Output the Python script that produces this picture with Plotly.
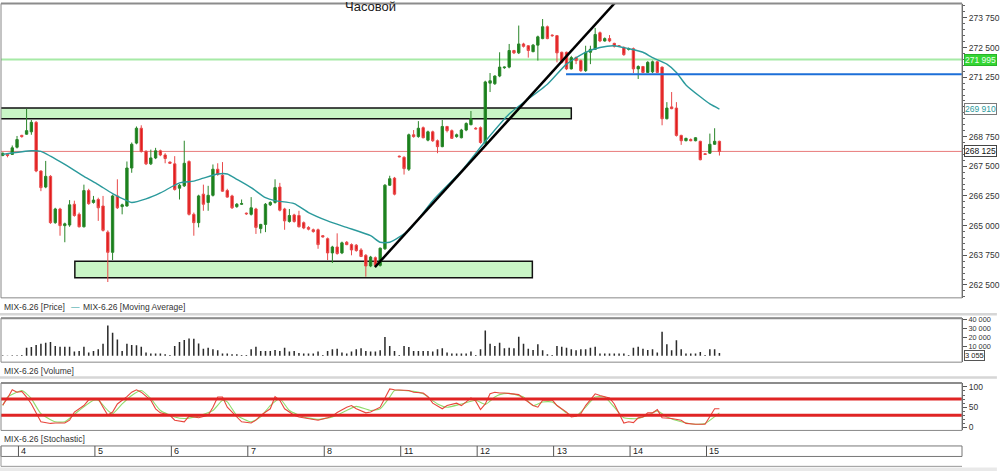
import plotly.graph_objects as go

# ---------------- data ----------------
candle_open = [267950, 268000, 268000, 268300, 268800, 268850, 268950, 269350, 267300, 266625,
               267075, 265125, 265700, 265000, 265025, 265900, 265475, 264950, 266475, 265975,
               266100, 265825, 264725, 263875, 266250, 265800, 265825, 267425, 268475, 269100,
               268125, 267600, 267850, 268150, 267975, 267675, 267600, 266575, 266675, 267700,
               265475, 265125, 266325, 265975, 266275, 267375, 267125, 266475, 266250, 265800,
               265900, 265525, 265475, 265700, 264875, 265050, 265875, 265975, 266625, 265700,
               265175, 265450, 265425, 265125, 264925, 264825, 264825, 264575, 264450, 263850,
               264100, 263850, 264300, 264200, 264175, 263975, 263750, 263300, 263650, 263325,
               264025, 266700, 267000, 267925, 267875, 267375, 268825, 268750, 269125, 268600,
               268950, 268575, 268325, 269175, 269000, 268750, 268700, 269025, 269250, 269100,
               269125, 268475, 271000, 270975, 271300, 271650, 271675, 272375, 272275, 272650,
               272575, 272325, 272600, 272875, 273375, 273025, 273000, 272300, 272300, 271600,
               272075, 271950, 271525, 272300, 272425, 273125, 272775, 272875, 272675, 272575,
               272500, 272425, 272450, 271600, 271700, 271450, 271475, 271900, 271675, 269500,
               270000, 269950, 268800, 268575, 268625, 268575, 268550, 268025, 268050, 268425,
               268550]
candle_high = [268075, 268050, 268375, 268775, 268825, 269925, 269450, 269400, 267325, 267725,
               267125, 265750, 265750, 265125, 266075, 266050, 265550, 266725, 266550, 266250,
               266175, 266250, 264800, 266300, 266950, 265925, 267700, 268500, 269175, 269225,
               268175, 268200, 268275, 268200, 268050, 267700, 267925, 266750, 268575, 267750,
               265550, 266300, 266725, 266675, 267575, 267625, 267675, 266550, 266300, 265950,
               266100, 265550, 266200, 265750, 265075, 265950, 266025, 266950, 266800, 265750,
               265700, 265500, 265625, 265175, 264975, 264875, 264875, 264600, 264500, 264150,
               264675, 264325, 264350, 264250, 264225, 264050, 263800, 263725, 263700, 264075,
               266750, 267100, 267050, 267950, 267925, 268875, 269025, 269400, 269175, 269000,
               269000, 268625, 269450, 269200, 269050, 268875, 269075, 269350, 269825, 269150,
               269175, 271100, 271425, 271325, 272300, 271700, 272650, 272400, 273425, 272700,
               272600, 272650, 273000, 273700, 273425, 273050, 273025, 272325, 272325, 272150,
               272125, 272000, 272575, 272575, 273325, 273175, 272925, 273025, 272700, 272600,
               272550, 272500, 272500, 271750, 271725, 271925, 271950, 271950, 271700, 270200,
               270625, 270200, 268825, 268700, 268675, 268725, 268575, 268050, 268875, 269100,
               268575]
candle_low = [267925, 267875, 267975, 268250, 268700, 268825, 268825, 267250, 266450, 266575,
              265075, 265075, 264575, 264300, 264950, 265375, 264925, 264925, 265875, 265925,
              265200, 264750, 262625, 263550, 265700, 265475, 265800, 267225, 268425, 268075,
              267550, 267550, 267800, 267925, 267625, 267600, 266475, 266100, 266625, 265425,
              264575, 264925, 265625, 265625, 266225, 267100, 266425, 266175, 265700, 265750,
              265875, 265450, 265425, 264650, 264675, 264725, 265825, 265925, 265600, 264825,
              265125, 265125, 264925, 264850, 264800, 264700, 264025, 264500, 263550, 263425,
              263775, 263800, 264175, 263750, 263900, 263675, 262850, 263250, 263300, 263275,
              263975, 266675, 266275, 267875, 267150, 267300, 268700, 268700, 268675, 268550,
              268525, 268050, 268300, 268925, 268650, 268700, 268675, 268975, 269225, 269050,
              268450, 268425, 270625, 270925, 271250, 271600, 271625, 272225, 272225, 272500,
              272075, 272300, 271950, 272850, 272850, 272950, 271875, 271825, 271550, 271575,
              271800, 271475, 271475, 271800, 272400, 272725, 272750, 272725, 272500, 272525,
              272150, 272375, 271425, 271175, 271425, 271425, 271425, 271425, 269225, 269475,
              269900, 268750, 268400, 268550, 268550, 268550, 267750, 267975, 268025, 268400,
              267950]
candle_close = [268050, 267950, 268275, 268625, 268750, 269000, 269350, 267300, 266600, 267075,
                265125, 265700, 265000, 265075, 265875, 265425, 264950, 266475, 265925, 266075,
                265750, 264800, 263875, 266250, 265750, 265875, 267425, 268425, 269100, 268125,
                267600, 267850, 268150, 267975, 267825, 267625, 266525, 266700, 267625, 265475,
                265125, 266250, 265900, 266275, 267375, 267150, 266450, 266200, 265750, 265900,
                265925, 265500, 265750, 264925, 265050, 265900, 265975, 266600, 265650, 265200,
                265425, 265175, 264950, 264900, 264850, 264750, 264200, 264525, 263850, 264100,
                263825, 264275, 264200, 263975, 263950, 263700, 263300, 263675, 263325, 264050,
                266700, 266975, 266325, 267900, 267400, 268825, 268750, 269100, 268700, 268950,
                268575, 268325, 269175, 269000, 268675, 268825, 269025, 269300, 269500, 269075,
                268500, 271050, 271100, 271300, 271675, 271675, 272375, 272275, 272650, 272550,
                272375, 272600, 272950, 273375, 272875, 273000, 272275, 271875, 271600, 272075,
                271950, 271525, 272300, 272425, 273050, 272775, 272875, 272775, 272550, 272550,
                272200, 272450, 271600, 271700, 271450, 271875, 271900, 271450, 269500, 269950,
                269925, 268800, 268575, 268675, 268575, 268700, 267775, 268000, 268425, 268550,
                268125]
volume = [500, 400, 600, 700, 800, 8900, 9600, 11800, 13200, 14300,
          15000, 10700, 10000, 10000, 10000, 4600, 5300, 10000, 3500, 5300,
          7100, 13200, 32900, 25000, 17800, 5300, 13200, 11800, 11400, 10000,
          3500, 2400, 2400, 2400, 1700, 800, 10700, 15000, 17100, 18900,
          18600, 13500, 7800, 8900, 7100, 6000, 2400, 2400, 1700, 1700,
          800, 800, 7100, 10000, 5300, 5300, 5300, 6400, 5300, 8900,
          4600, 5300, 3200, 2400, 2400, 2400, 4600, 800, 5300, 7100,
          7800, 3500, 2400, 4600, 7100, 8200, 5300, 4600, 4600, 6000,
          20400, 10700, 5300, 800, 10700, 9600, 5300, 5300, 5300, 5300,
          4600, 7100, 8200, 3500, 2400, 2400, 2400, 2400, 4600, 800,
          7100, 27500, 13200, 10700, 14300, 8200, 8900, 8200, 20700, 13200,
          7800, 6400, 12500, 6000, 1700, 800, 10700, 10000, 8900, 7100,
          6000, 7100, 7100, 8900, 10000, 2400, 2400, 2400, 2400, 2400,
          2400, 800, 8900, 10000, 7800, 6400, 7100, 3500, 26100, 12500,
          6000, 16800, 7100, 2400, 2400, 2400, 4200, 800, 7100, 7100,
          3055]

ma_idx = [0, 6, 8, 10, 13, 17, 20, 23, 26, 27, 30, 33, 37, 40, 42, 45, 47, 49, 52, 55,
          57, 61, 64, 68, 72, 77, 79, 81, 85, 90, 96, 101, 106, 114, 118, 122, 125, 128, 131, 134,
          136, 139, 141, 143, 146, 148, 150]
ma_vals = [268000, 268150, 268125, 267925, 267575, 267075, 266725, 266350, 266050, 265975,
           266125, 266375, 266800, 266875, 267000, 267175, 267175, 266950, 266600, 266175,
           266050, 265925, 265550, 265200, 264925, 264575, 264300, 264300, 264800, 266050,
           267300, 268550, 269700, 270950, 271800, 272300, 272500, 272575, 272450, 272300,
           272075, 271800, 271450, 270925, 270425, 270125, 269910]

stoch_k_idx = [0, 1, 2, 3, 4, 5, 6, 7, 8, 10,
               11, 13, 14, 15, 17, 18, 20, 21, 22, 23,
               24, 26, 27, 28, 29, 31, 32, 33, 35, 36,
               38, 39, 40, 41, 43, 44, 45, 46, 47, 49,
               50, 52, 53, 54, 56, 57, 58, 59, 61, 62,
               63, 65, 66, 68, 69, 70, 72, 73, 74, 76,
               77, 79, 80, 81, 82, 84, 85, 86, 88, 89,
               90, 92, 93, 95, 96, 97, 98, 99, 100, 101,
               102, 103, 104, 105, 106, 108, 109, 111, 112, 113,
               115, 116, 118, 119, 120, 121, 122, 124, 125, 127,
               128, 129, 130, 131, 132, 133, 134, 135, 136, 137,
               138, 140, 142, 143, 145, 147, 148, 149, 150]
stoch_k = [55, 72, 93, 87, 89, 75, 58, 34, 14, 10,
           11, 11, 18, 38, 54, 68, 71, 50, 30, 38,
           58, 76, 87, 93, 87, 67, 46, 36, 30, 18,
           14, 28, 26, 24, 30, 50, 75, 75, 50, 26,
           14, 11, 18, 30, 46, 76, 67, 46, 30, 26,
           24, 20, 18, 24, 28, 37, 50, 54, 46, 36,
           38, 50, 71, 95, 93, 91, 91, 87, 85, 76,
           60, 46, 54, 60, 54, 63, 73, 65, 44, 58,
           83, 87, 85, 85, 84, 81, 71, 54, 50, 67,
           68, 54, 38, 26, 28, 34, 54, 83, 79, 73,
           58, 34, 11, 14, 12, 24, 26, 36, 36, 44,
           24, 22, 18, 10, 8, 8, 26, 46, 46]
stoch_d_idx = [0, 1, 4, 5, 6, 8, 11, 13, 16, 19,
               20, 22, 23, 25, 27, 29, 31, 33, 36, 38,
               41, 44, 46, 47, 49, 52, 54, 56, 58, 60,
               63, 66, 69, 72, 74, 77, 79, 81, 82, 86,
               88, 91, 93, 96, 99, 101, 103, 104, 106, 109,
               111, 113, 115, 118, 120, 122, 124, 126, 128, 130,
               133, 135, 137, 139, 142, 145, 147, 150]
stoch_d = [54, 75, 91, 83, 71, 34, 14, 14, 42, 67,
           67, 42, 34, 58, 79, 91, 71, 42, 26, 22,
           28, 42, 67, 63, 30, 14, 26, 54, 71, 42,
           26, 20, 26, 42, 52, 42, 46, 75, 91, 89,
           83, 58, 50, 58, 67, 57, 75, 81, 84, 75,
           54, 63, 63, 36, 28, 50, 75, 75, 50, 24,
           22, 30, 41, 26, 14, 8, 10, 36]

day_labels = ["4", "5", "6", "7", "8", "11", "12", "13", "14", "15"]
day_start = [4, 20, 36, 52, 68, 84, 100, 116, 132, 148]

price_ticks = [262500, 263750, 265000, 266250, 267500, 268750, 270000, 271250, 272500, 273750]
volume_ticks = [10000, 20000, 30000, 40000]
stoch_ticks = [0, 50, 100]

level_green = 271995
level_last = 268125
level_blue = 271375
ma_last = 269910
stoch_levels = [70, 30]

# ---------------- layout helpers ----------------
W, H = 1000, 473
ML, MR = 1, 35
PW = W - ML - MR


def fx(px):
    return (px - ML) / PW


def fy(py):
    return 1 - py / H


def fmt(v):
    return f"{v:,}".replace(",", " ")


FONT = "Arial, 'Liberation Sans', sans-serif"
idx = list(range(len(candle_open)))
XR = [-0.355, 200.77]

fig = go.Figure()
fig.add_trace(go.Candlestick(
    x=idx, open=candle_open, high=candle_high, low=candle_low, close=candle_close,
    xaxis="x", yaxis="y", whiskerwidth=0,
    increasing=dict(line=dict(color="#2a862a", width=1), fillcolor="#17801a"),
    decreasing=dict(line=dict(color="#e8494a", width=1), fillcolor="#e21c1c"),
    hoverinfo="skip", showlegend=False))
fig.add_trace(go.Scatter(x=ma_idx, y=ma_vals, mode="lines", xaxis="x", yaxis="y",
                         line=dict(color="#2b9a9c", width=1.4, shape="spline", smoothing=0.6),
                         hoverinfo="skip", showlegend=False))
fig.add_trace(go.Bar(x=idx, y=volume, xaxis="x2", yaxis="y2", width=0.32,
                     marker=dict(color="#2b2b2b", line=dict(width=0)),
                     hoverinfo="skip", showlegend=False))
fig.add_trace(go.Scatter(x=stoch_d_idx, y=stoch_d, mode="lines", xaxis="x3", yaxis="y3",
                         line=dict(color="#8fdc6c", width=1.1, shape="spline", smoothing=0.5),
                         hoverinfo="skip", showlegend=False))
fig.add_trace(go.Scatter(x=stoch_k_idx, y=stoch_k, mode="lines", xaxis="x3", yaxis="y3",
                         line=dict(color="#e8463c", width=1.1),
                         hoverinfo="skip", showlegend=False))

ax_common = dict(range=XR, visible=False, fixedrange=True)
yax_common = dict(side="right", showline=True, linecolor="#555", linewidth=1,
                  ticks="outside", ticklen=4, tickcolor="#555", showgrid=False,
                  zeroline=False, fixedrange=True)

shapes = []
# price overlays
shapes.append(dict(type="rect", xref="x", yref="y", x0=-2, x1=119.0, y0=269500, y1=269950,
                   fillcolor="#c9f5c6", line=dict(color="#111", width=1.5), layer="below"))
shapes.append(dict(type="rect", xref="x", yref="y", x0=15.1, x1=110.85, y0=262800, y1=263500,
                   fillcolor="#c9f5c6", line=dict(color="#111", width=1.5), layer="below"))
shapes.append(dict(type="line", xref="paper", yref="y", x0=0, x1=1, y0=level_green, y1=level_green,
                   line=dict(color="#a6eaa6", width=2), layer="below"))
shapes.append(dict(type="line", xref="paper", yref="y", x0=0, x1=1, y0=level_last, y1=level_last,
                   line=dict(color="#e87a7a", width=1), layer="below"))
shapes.append(dict(type="line", xref="x", yref="y", x0=117.9, x1=XR[1], y0=level_blue, y1=level_blue,
                   line=dict(color="#1c6fd8", width=2)))
shapes.append(dict(type="line", xref="x", yref="y", x0=77.9, y0=263250, x1=128.1, y1=274375,
                   line=dict(color="#000", width=2.5)))
# stochastic levels
for lv in stoch_levels:
    shapes.append(dict(type="line", xref="paper", yref="y3", x0=0, x1=1, y0=lv, y1=lv,
                       line=dict(color="#e02424", width=3)))
# panel frames
for top, bot in [(0.5, 298), (318.5, 363), (384, 432)]:
    shapes.append(dict(type="rect", xref="paper", yref="paper", x0=0, x1=1, y0=fy(bot), y1=fy(top),
                       line=dict(color="#888", width=1)))
    shapes.append(dict(type="line", xref="paper", yref="paper", x0=0, x1=1, y0=fy(top), y1=fy(top),
                       line=dict(color="#8c8c8c", width=2)))
# separators
for sep in [314.5, 378.5]:
    shapes.append(dict(type="line", xref="paper", yref="paper", x0=fx(0), x1=fx(1000), y0=fy(sep), y1=fy(sep),
                       line=dict(color="#d6d6d6", width=2.5)))
# date strip
shapes.append(dict(type="rect", xref="paper", yref="paper", x0=0, x1=1, y0=fy(458.3), y1=fy(447.7),
                   line=dict(color="#777", width=1)))
shapes.append(dict(type="line", xref="paper", yref="paper", x0=0, x1=1, y0=fy(468.3), y1=fy(468.3),
                   line=dict(color="#999", width=1)))
shapes.append(dict(type="line", xref="paper", yref="paper", x0=0, x1=0, y0=fy(468.3), y1=fy(447.7),
                   line=dict(color="#999", width=1)))
shapes.append(dict(type="rect", xref="paper", yref="paper", x0=fx(0), x1=fx(1000), y0=fy(473), y1=fy(469.5),
                   fillcolor="#e9e9e9", line=dict(width=0)))
for ds in day_start:
    shapes.append(dict(type="line", xref="x", yref="paper", x0=ds - 0.7, x1=ds - 0.7,
                       y0=fy(458.3), y1=fy(447.7), line=dict(color="#555", width=1)))

annotations = []
annotations.append(dict(xref="paper", yref="paper", x=fx(372), y=fy(3.5), text="Часовой",
                        showarrow=False, xanchor="center", yanchor="middle",
                        font=dict(family=FONT, size=13, color="#1a1a1a")))
legend_items = [("MIX-6.26 [Price]", 2, 307, "#333"),
                ("—", 69, 307, "#2b9a9c"),
                ("MIX-6.26 [Moving Average]", 81, 307, "#333"),
                ("MIX-6.26 [Volume]", 2, 372, "#333"),
                ("MIX-6.26 [Stochastic]", 2, 441, "#333")]
for txt, px, py, col in legend_items:
    annotations.append(dict(xref="paper", yref="paper", x=fx(px), y=fy(py), text=txt,
                            showarrow=False, xanchor="left", yanchor="middle",
                            font=dict(family=FONT, size=8.5, color=col)))
for lab, ds in zip(day_labels, day_start):
    annotations.append(dict(xref="x", yref="paper", x=ds - 0.5, y=fy(453.2), text=lab,
                            showarrow=False, xanchor="left", yanchor="middle",
                            font=dict(family=FONT, size=9, color="#222")))
# right-side value boxes
annotations.append(dict(xref="paper", yref="y", x=fx(967), y=level_green, text=fmt(level_green),
                        showarrow=False, xanchor="left", yanchor="middle", bgcolor="#34d634",
                        bordercolor="#28b428", borderwidth=1, borderpad=0,
                        font=dict(family=FONT, size=8.5, color="#eaffea")))
annotations.append(dict(xref="paper", yref="y", x=fx(967), y=ma_last, text=fmt(ma_last),
                        showarrow=False, xanchor="left", yanchor="middle", bgcolor="#ffffff",
                        bordercolor="#7a7a7a", borderwidth=1, borderpad=0,
                        font=dict(family=FONT, size=8.5, color="#2b9a9c")))
annotations.append(dict(xref="paper", yref="y", x=fx(967), y=level_last, text=fmt(level_last),
                        showarrow=False, xanchor="left", yanchor="middle", bgcolor="#ffffff",
                        bordercolor="#444", borderwidth=1, borderpad=0,
                        font=dict(family=FONT, size=8.5, color="#111")))
annotations.append(dict(xref="paper", yref="y2", x=fx(967), y=volume[-1], text=fmt(volume[-1]),
                        showarrow=False, xanchor="left", yanchor="middle", yshift=-2.5,
                        bgcolor="#ffffff", bordercolor="#555", borderwidth=1, borderpad=0,
                        font=dict(family=FONT, size=7.5, color="#222")))

fig.update_layout(
    width=W, height=H, margin=dict(l=ML, r=MR, t=0, b=0),
    paper_bgcolor="white", plot_bgcolor="white", showlegend=False,
    font=dict(family=FONT),
    xaxis=dict(domain=[0, 1], anchor="y", rangeslider=dict(visible=False), **ax_common),
    xaxis2=dict(domain=[0, 1], anchor="y2", **ax_common),
    xaxis3=dict(domain=[0, 1], anchor="y3", **ax_common),
    yaxis=dict(domain=[fy(298), fy(1)], anchor="x", range=[261958, 274333],
               tickmode="array", tickvals=price_ticks,
               ticktext=[fmt(v) if v != 270000 else "" for v in price_ticks],
               tickfont=dict(family=FONT, size=8.5, color="#333"),
               minor=dict(tickmode="linear", tick0=0, dtick=250, ticks="outside",
                          ticklen=2, tickcolor="#666", showgrid=False),
               **yax_common),
    yaxis2=dict(domain=[fy(363), fy(318)], anchor="x2", range=[-6882, 41505],
                tickmode="array", tickvals=volume_ticks, ticktext=[fmt(v) for v in volume_ticks],
                tickfont=dict(family=FONT, size=7.3, color="#333"),
                **yax_common),
    yaxis3=dict(domain=[fy(432), fy(384)], anchor="x3", range=[-7.3, 109.8],
                tickmode="array", tickvals=stoch_ticks, ticktext=[str(v) for v in stoch_ticks],
                tickfont=dict(family=FONT, size=8.5, color="#333"),
                minor=dict(tickmode="linear", tick0=0, dtick=10, ticks="outside",
                           ticklen=2, tickcolor="#666", showgrid=False),
                **yax_common),
    shapes=shapes, annotations=annotations,
)

fig.write_html("out.html", config=dict(displayModeBar=False, staticPlot=True),
               post_script="document.body.style.margin='0';document.body.style.overflow='hidden';")
